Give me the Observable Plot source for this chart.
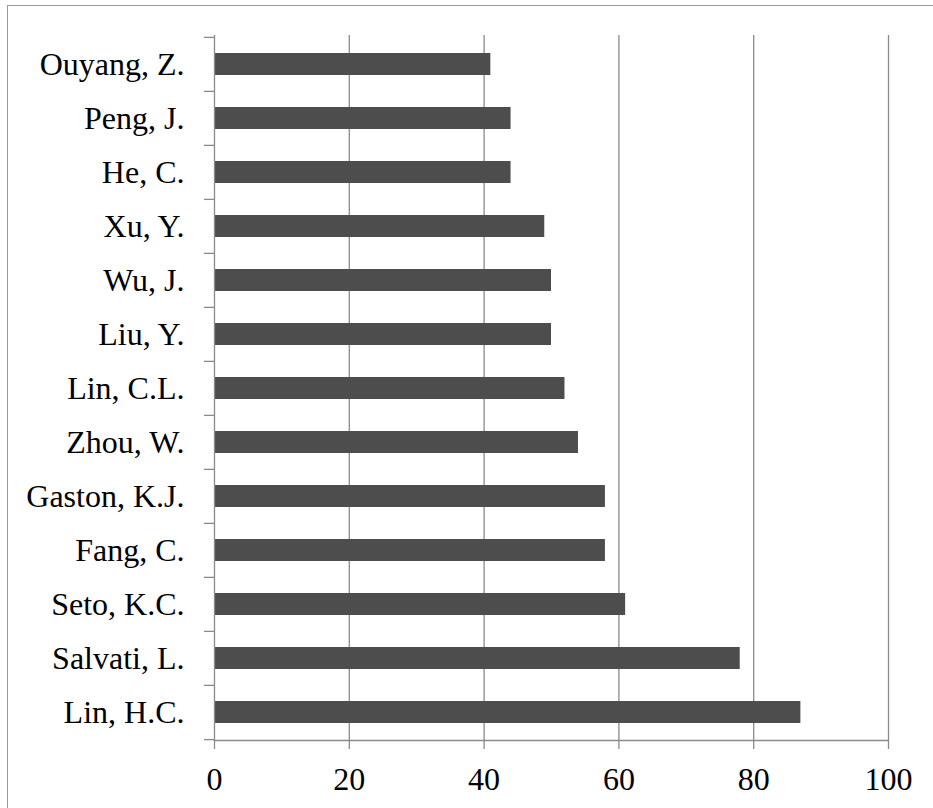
<!DOCTYPE html>
<html>
<head>
<meta charset="utf-8">
<script src="https://cdn.jsdelivr.net/npm/d3@7"></script>
<script src="https://cdn.jsdelivr.net/npm/@observablehq/plot@0.6"></script>
<style>
  html, body { margin: 0; padding: 0; background: #fff; overflow: hidden; }
  #page { position: relative; width: 933px; height: 808px; overflow: hidden; }
  #border { position: absolute; left: 7px; top: 5px; width: 2000px; height: 2000px;
            border-left: 1px solid #9a9a9a; border-top: 1px solid #9a9a9a; box-sizing: border-box; }
  #chart { position: absolute; left: 0; top: 0; }
</style>
</head>
<body>
<div id="page">
  <div id="border"></div>
  <div id="chart"></div>
</div>
<script>
// Data (top to bottom as shown)
const authors = ["Ouyang, Z.", "Peng, J.", "He, C.", "Xu, Y.", "Wu, J.", "Liu, Y.",
  "Lin, C.L.", "Zhou, W.", "Gaston, K.J.", "Fang, C.", "Seto, K.C.", "Salvati, L.", "Lin, H.C."];
const counts = [41, 44, 44, 49, 50, 50, 52, 54, 58, 58, 61, 78, 87];
const xTicks = [0, 20, 40, 60, 80, 100];

const data = authors.map((a, i) => ({author: a, count: counts[i]}));

const W = 933, H = 808;
const mTop = 35, mBottom = 68, mLeft = 214, mRight = 45;
const step = (H - mTop - mBottom) / authors.length;
const font = "'Liberation Serif', 'Times New Roman', serif";
const gray = "#8a8a8a";

const chart = Plot.plot({
  width: W,
  height: H,
  marginTop: mTop,
  marginBottom: mBottom,
  marginLeft: mLeft,
  marginRight: mRight,
  style: {fontFamily: font, fontSize: "32px", color: "#000", background: "transparent", overflow: "visible"},
  x: {domain: [0, 100]},
  y: {domain: authors, paddingInner: 0.6, paddingOuter: 0.3},
  marks: [
    Plot.gridX(xTicks.slice(1), {stroke: gray, strokeOpacity: 1, strokeWidth: 1.3}),
    Plot.barX(data, {x: "count", y: "author", fill: "#4d4d4d"}),
    Plot.ruleX([0], {stroke: gray, strokeWidth: 1.3}),
    Plot.frame({anchor: "bottom", stroke: gray, strokeWidth: 1.3}),
    // y tick marks at category boundaries
    Plot.axisY({ticks: authors, tickSize: 10, tickFormat: null, stroke: gray, strokeWidth: 1.3, dy: -step / 2, label: null}),
    Plot.axisY({ticks: [authors[authors.length - 1]], tickSize: 10, tickFormat: null, stroke: gray, strokeWidth: 1.3, dy: step / 2, label: null}),
    // y labels
    Plot.axisY({tickSize: 0, tickPadding: 30, fontSize: 32, fill: "#000", label: null}),
    // x axis
    Plot.axisX({ticks: xTicks, tickSize: 9, tickPadding: 18, stroke: gray, strokeWidth: 1.3, fontSize: 32, fill: "#000", label: null})
  ]
});

document.getElementById("chart").appendChild(chart);
</script>
</body>
</html>
